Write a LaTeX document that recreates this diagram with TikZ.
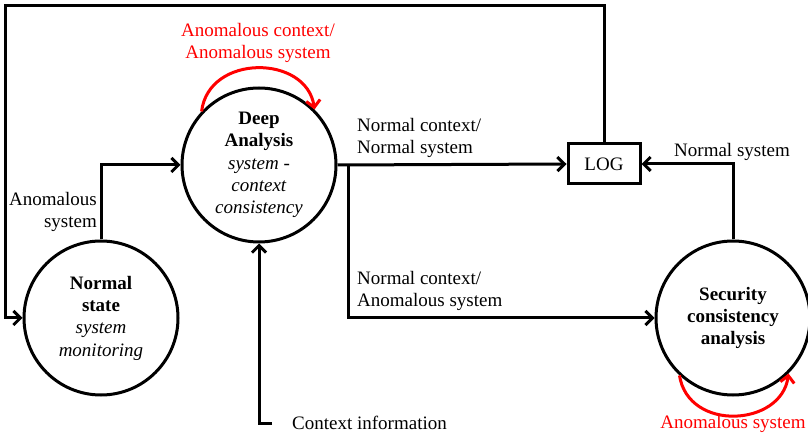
\documentclass[tikz,border=0pt]{standalone}
\usepackage{fontspec}
\setmainfont{Liberation Serif}
\usetikzlibrary{arrows.meta}
\begin{document}
\begin{tikzpicture}[x=1pt,y=-1pt,
  every node/.style={font=\fontsize{19}{22.3}\selectfont},
  state/.style={circle,draw,line width=3pt,minimum size=154pt,inner sep=0pt,align=center},
  logbox/.style={draw,line width=3pt,minimum width=72pt,minimum height=40pt,inner sep=0pt},
  conn/.style={line width=3pt,-{Straight Barb[length=7pt,width=14pt]}},
  redloop/.style={conn,red},
  lbl/.style={inner sep=0pt}
]
\useasboundingbox (0,0) rectangle (808,435);
% states
\node[state] (ns) at (101,318) {\textbf{Normal}\\\textbf{state}\\\textit{system}\\\textit{monitoring}};
\node[state] (da) at (259,165) {\textbf{Deep}\\\textbf{Analysis}\\\textit{system -}\\\textit{context}\\\textit{consistency}};
\node[state] (sa) at (733,318) {\textbf{Security}\\\textbf{consistency}\\\textbf{analysis}};
\node[logbox] (log) at (604,164) {LOG};
% helper coordinates
\coordinate (tl) at (5,6);
\coordinate (br) at (348,165);
\coordinate (ctx) at (272,423);
% connectors
\draw[conn] (ns.north) |- (da.west);
\draw[conn] (log.north) |- (tl) |- (ns.west);
\draw[conn] (da.east) -- (log.west);
\draw[conn] (br) |- (sa.west);
\draw[conn] (sa.north) |- (log.east);
\draw[conn] (ctx) -| (da.south);
% self loops
\draw[redloop] (da.137) .. controls +(7,-58) and +(-8,-55) .. (da.45);
\draw[redloop] (sa.227) .. controls +(9,57) and +(-7,53) .. (sa.315);
% labels
\node[lbl,red,align=center] (l1) at (258,43) {Anomalous context/\\Anomalous system};
\node[lbl,align=right,anchor=east] (l2) at (97,212) {Anomalous\\system};
\node[lbl,align=left,anchor=west] (l3) at (357,138) {Normal context/\\Normal system};
\node[lbl,align=left,anchor=west] (l4) at (357,291) {Normal context/\\Anomalous system};
\node[lbl] (l5) at (732,152) {Normal system};
\node[lbl,red] (l6) at (733,424) {Anomalous system};
\node[lbl,anchor=west] (l7) at (292,423) {Context information};
\end{tikzpicture}
\end{document}
